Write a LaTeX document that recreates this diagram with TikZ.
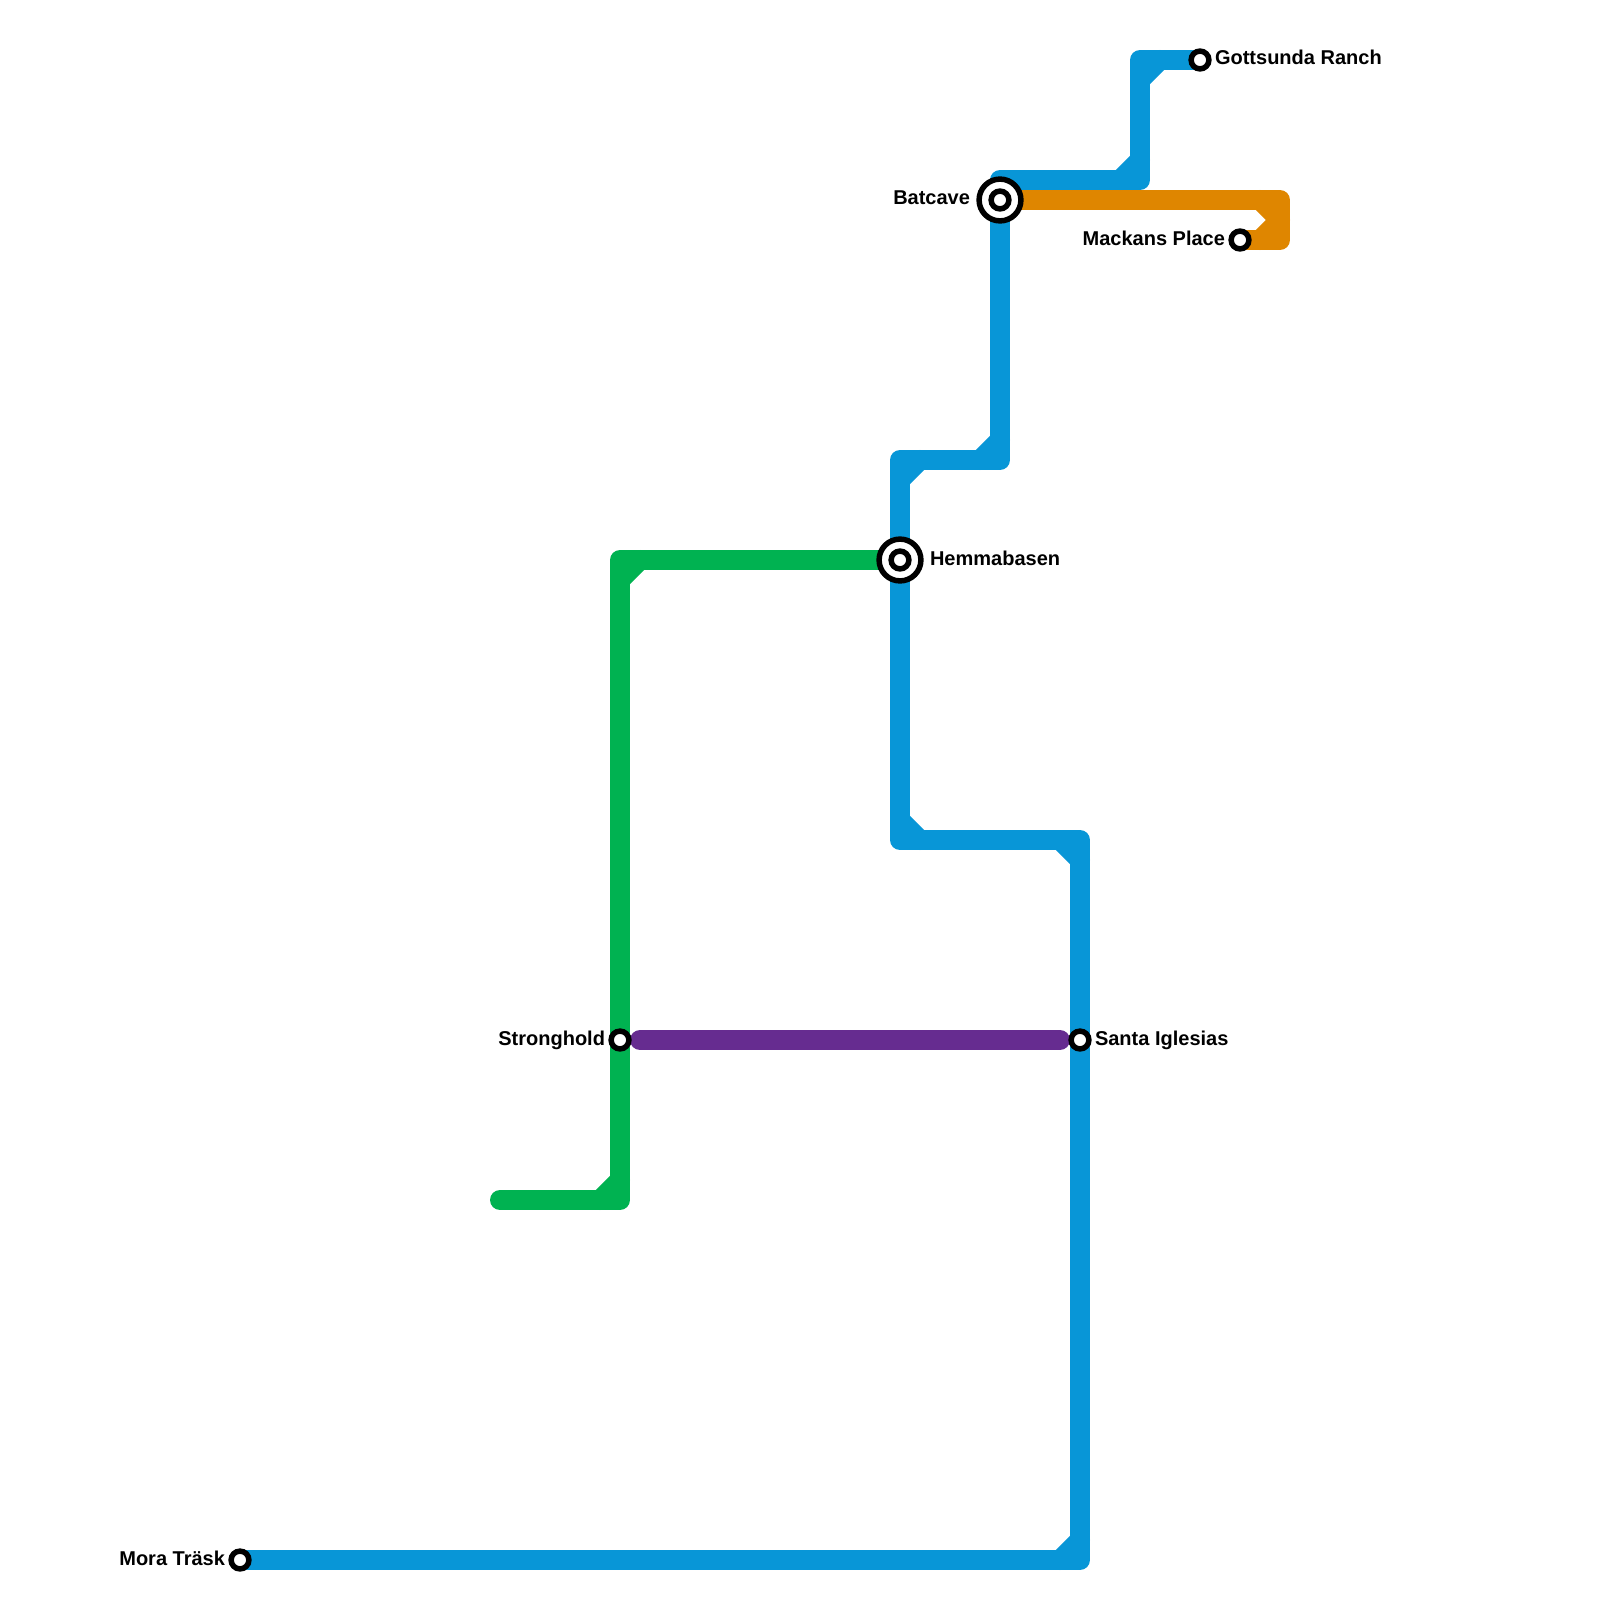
\documentclass[tikz,border=0pt]{standalone}
\usepackage{fontspec}
\setmainfont{Liberation Sans}
\usetikzlibrary{backgrounds}
\definecolor{lineblue}{HTML}{0896D7}
\definecolor{linegreen}{HTML}{00B251}
\definecolor{lineorange}{HTML}{DF8600}
\definecolor{linepurple}{HTML}{662C90}
\tikzset{
  metro/.style={line width=2mm, line cap=round, line join=round},
  stn/.style={circle, draw=black, fill=white, line width=0.55mm, minimum size=1.78mm, inner sep=0pt, outer sep=0pt},
  hub/.style={circle, draw=black, fill=white, line width=0.55mm, minimum size=4.18mm, inner sep=0pt, outer sep=0pt},
  lbl/.style={inner sep=0pt, outer sep=0pt, font=\fontsize{5.69pt}{6pt}\selectfont\bfseries}
}
\begin{document}
\begin{tikzpicture}[x=0.01cm, y=-0.01cm]
    \useasboundingbox (0,0) rectangle (1600,1600);
    \node[stn] (gottsunda) at (1200,60) {};
    \node[hub] (batcave) at (1000,200) {};
    \node[stn] (batcavein) at (1000,200) {};
    \node[stn] (mackans) at (1240,240) {};
    \node[hub] (hemmabasen) at (900,560) {};
    \node[stn] (hemmabasenin) at (900,560) {};
    \node[stn] (santa) at (1080,1040) {};
    \node[stn] (stronghold) at (620,1040) {};
    \node[stn] (mora) at (240,1560) {};
    \coordinate (greenend) at (500,1200);
    \node[lbl, anchor=base west] (gottsundalbl) at (1215,65) {Gottsunda Ranch};
    \node[lbl, anchor=base east] (batcavelbl) at (970,205) {Batcave};
    \node[lbl, anchor=base east] (mackanslbl) at (1225,245.5) {Mackans Place};
    \node[lbl, anchor=base west] (hemmabasenlbl) at (930,565) {Hemmabasen};
    \node[lbl, anchor=base west] (santalbl) at (1095,1045) {Santa Iglesias};
    \node[lbl, anchor=base east] (strongholdlbl) at (605,1045) {Stronghold};
    \node[lbl, anchor=base east] (moralbl) at (225,1565) {Mora Träsk};
    \begin{scope}[on background layer]
        % lines
        \draw[metro, lineorange] (batcave.center) -- (1280,200) -- (1280,240) -- (mackans.center);
        \draw[metro, lineblue] (mora.center) -- (1080,1560) -- (santa.center) -- (1080,840) -- (900,840)
            -- (hemmabasen.center) -- (900,460) -- (1000,460) -- (batcave.center) -- (1000,180)
            -- (1140,180) -- (1140,60) -- (gottsunda.center);
        \draw[metro, linegreen] (greenend) -- (620,1200) -- (stronghold.center) -- (620,560) -- (hemmabasen.center);
        \draw[metro, linepurple, shorten <=2mm, shorten >=2mm] (stronghold.center) -- (santa.center);
        % corners
        \foreach \xa/\ya/\xb/\yb in {1060/1560/1080/1540, 1060/840/1080/860, 900/820/920/840, 900/480/920/460,
            980/460/1000/440, 1120/180/1140/160, 1140/80/1160/60}
            \draw[metro, lineblue] (\xa,\ya) -- (\xb,\yb);
        \foreach \xa/\ya/\xb/\yb in {600/1200/620/1180, 620/580/640/560}
            \draw[metro, linegreen] (\xa,\ya) -- (\xb,\yb);
        \foreach \xa/\ya/\xb/\yb in {1260/200/1280/220, 1280/220/1260/240}
            \draw[metro, lineorange] (\xa,\ya) -- (\xb,\yb);
    \end{scope}
\end{tikzpicture}
\end{document}
